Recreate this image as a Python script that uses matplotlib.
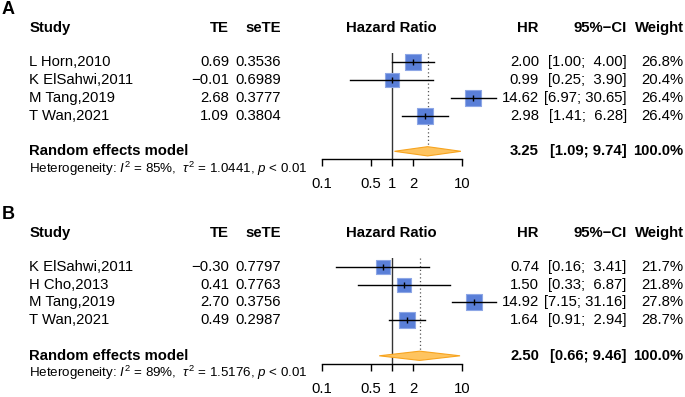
import matplotlib
matplotlib.use("Agg")
import matplotlib.pyplot as plt
import matplotlib.transforms as mtransforms
from matplotlib.patches import Polygon

plt.rcParams['font.family'] = ['Liberation Sans', 'DejaVu Sans']
plt.rcParams['mathtext.fontset'] = 'custom'
plt.rcParams['mathtext.rm'] = 'Liberation Sans'
plt.rcParams['mathtext.it'] = 'Liberation Sans:italic'
plt.rcParams['mathtext.bf'] = 'Liberation Sans:bold'

# Panel A data
studies_a = ["L Horn,2010", "K ElSahwi,2011", "M Tang,2019", "T Wan,2021"]
te_a = [0.69, -0.01, 2.68, 1.09]
sete_a = [0.3536, 0.6989, 0.3777, 0.3804]
hr_a = [2.00, 0.99, 14.62, 2.98]
lo_a = [1.00, 0.25, 6.97, 1.41]
hi_a = [4.00, 3.90, 30.65, 6.28]
w_a = [26.8, 20.4, 26.4, 26.4]
re_a = [3.25, 1.09, 9.74]
het_a = [85, 1.0441]

# Panel B data
studies_b = ["K ElSahwi,2011", "H Cho,2013", "M Tang,2019", "T Wan,2021"]
te_b = [-0.30, 0.41, 2.70, 0.49]
sete_b = [0.7797, 0.7763, 0.3756, 0.2987]
hr_b = [0.74, 1.50, 14.92, 1.64]
lo_b = [0.16, 0.33, 7.15, 0.91]
hi_b = [3.41, 6.87, 31.16, 2.94]
w_b = [21.7, 21.8, 27.8, 28.7]
re_b = [2.50, 0.66, 9.46]
het_b = [89, 1.5176]

ticks = [0.1, 0.5, 1, 2, 10]
tick_labels = ["0.1", "0.5", "1", "2", "10"]

W, H = 685, 397
FS = 10.7
SQ_COL, SQ_EDGE = "#5a7fd8", "#8ea7e6"
DIA_COL, DIA_EDGE = "#fec460", "#f7a41f"

fig = plt.figure(figsize=(W / 100, H / 100), dpi=100)


def mnum(v, fmt):
    return format(v, fmt).replace("-", "\u2212")


def ci_str(lo, hi, width):
    return "[" + format(lo, ".2f") + "; " + format(hi, ".2f").rjust(width) + "]"


def panel(letter, dy, studies, te, sete, hr, lo, hi, w, re, het):
    row0, rowh = 26.7 + dy, 17.8
    top, bot = 53 + dy, 159.3 + dy
    ax = fig.add_axes([322 / W, 1 - bot / H, (461.7 - 322) / W, (bot - top) / H])
    ax.set_xscale("log")
    ax.set_xlim(0.1, 10)
    ax.set_ylim((bot - row0) / rowh, (top - row0) / rowh)
    for s in ["top", "left", "right"]:
        ax.spines[s].set_visible(False)
    ax.spines["bottom"].set_linewidth(1.0)
    ax.set_yticks([])
    ax.set_xticks(ticks)
    ax.set_xticklabels(tick_labels)
    ax.minorticks_off()
    ax.tick_params(axis="x", length=5, width=1.0, pad=8, labelsize=FS)
    ax.patch.set_visible(False)

    ax.axvline(1, color="#333333", lw=1.0)
    ax.vlines(re[0], ax.get_ylim()[1], 7 - 0.26, color="#555555", lw=0.9, linestyles=(0, (1, 2)))

    rows = [2 + i for i in range(len(studies))]
    wmax = max(w)
    for r, est, l, h, wt in zip(rows, hr, lo, hi, w):
        side = 16 * (wt / wmax) ** 0.5 * 0.72
        ax.scatter([est], [r], s=side ** 2, marker="s", color=SQ_COL, edgecolors=SQ_EDGE,
                   linewidths=0.8, zorder=3, clip_on=False)
        ax.plot([l, h], [r, r], color="black", lw=1.0, zorder=4, clip_on=False)
        ax.plot([est], [r], marker="|", color="black", ms=4, mew=1.0, zorder=5, clip_on=False)

    dia = Polygon([[re[1], 7], [re[0], 7 - 0.26], [re[2], 7], [re[0], 7 + 0.26]],
                  closed=True, facecolor=DIA_COL, edgecolor=DIA_EDGE, lw=0.8, zorder=3, clip_on=False)
    ax.add_patch(dia)

    tr = mtransforms.blended_transform_factory(fig.transFigure, ax.transData)

    def t(px, r, s, ha="left", bold=False, size=FS):
        fig.text(px / W, r, s, transform=tr, ha=ha, va="center", fontsize=size,
                 fontweight="bold" if bold else "normal")

    fig.text(2 / W, 1 - (10 + dy) / H, letter, ha="left", va="center", fontsize=13, fontweight="bold")

    hdr = 0.08
    t(29.3, hdr, "Study", bold=True)
    t(229.3, hdr, "TE", ha="right", bold=True)
    t(281, hdr, "seTE", ha="right", bold=True)
    t(391.7, hdr, "Hazard Ratio", ha="center", bold=True)
    t(539, hdr, "HR", ha="right", bold=True)
    t(626.7, hdr, "95%\u2212CI", ha="right", bold=True)
    t(683.5, hdr, "Weight", ha="right", bold=True)

    width = max(len(format(v, ".2f")) for v in hi)
    for r, name, a, b, est, l, h, wt in zip(rows, studies, te, sete, hr, lo, hi, w):
        t(29.3, r, name)
        t(229.3, r, mnum(a, ".2f"), ha="right")
        t(281, r, format(b, ".4f"), ha="right")
        t(539, r, format(est, ".2f"), ha="right")
        t(626.7, r, ci_str(l, h, width), ha="right")
        t(683.5, r, format(wt, ".1f") + "%", ha="right")

    t(29.3, 7, "Random effects model", bold=True)
    t(539, 7, format(re[0], ".2f"), ha="right", bold=True)
    t(626.7, 7, ci_str(re[1], re[2], 4), ha="right", bold=True)
    t(683.5, 7, format(sum(w), ".1f") + "%", ha="right", bold=True)
    t(29.3, 7.97, r"Heterogeneity: $I^2$ = %d%%,  $\tau^2$ = %.4f, $p$ < 0.01" % (het[0], het[1]), size=9.6)


panel("A", 0, studies_a, te_a, sete_a, hr_a, lo_a, hi_a, w_a, re_a, het_a)
panel("B", 204.5, studies_b, te_b, sete_b, hr_b, lo_b, hi_b, w_b, re_b, het_b)

fig.savefig("out.png", dpi=100)
